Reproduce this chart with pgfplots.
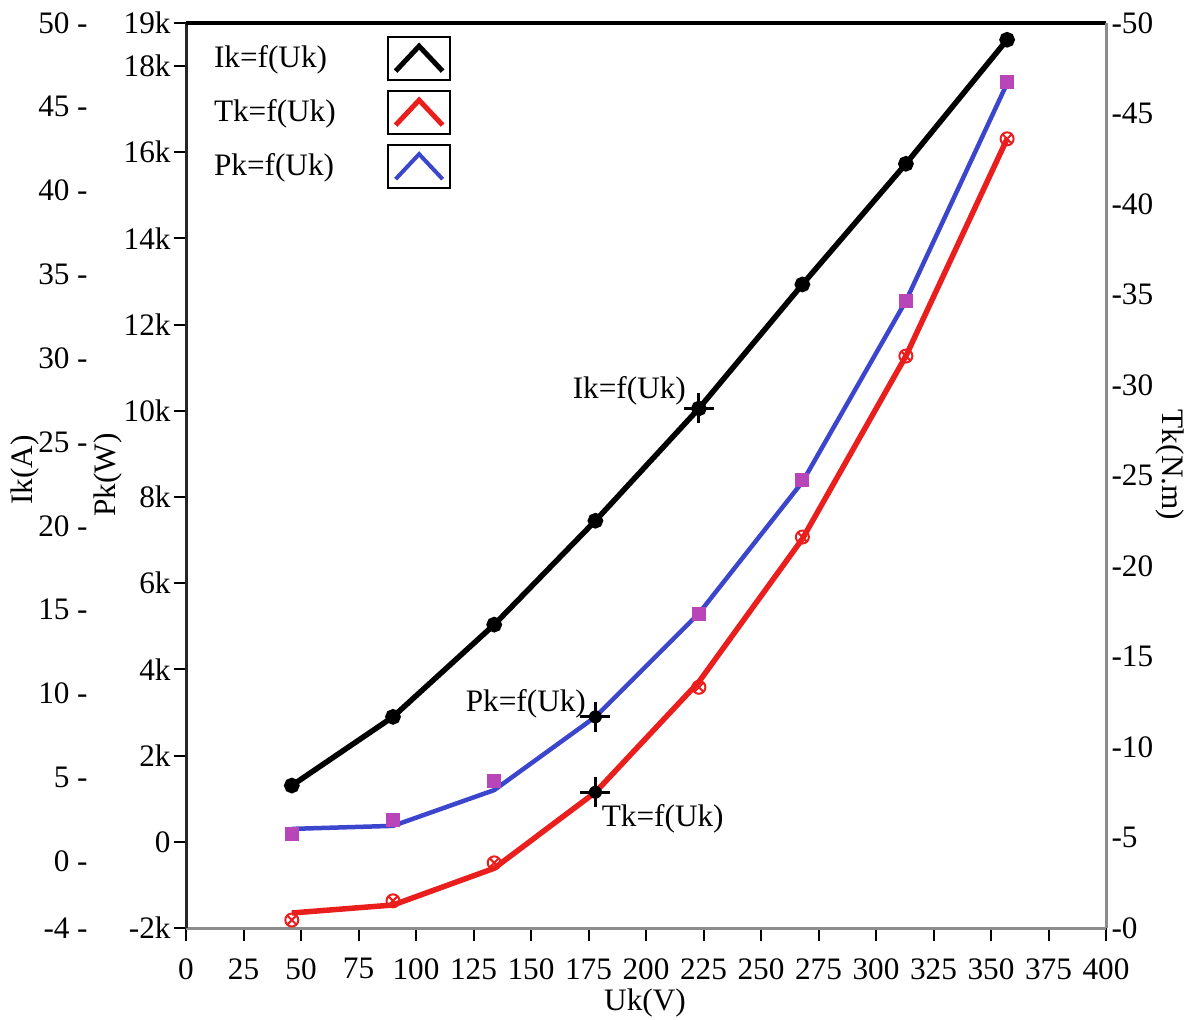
\documentclass[border=0pt]{standalone}
\usepackage{fontspec}
\setmainfont{Liberation Serif}
\usepackage{pgfplots}
\pgfplotsset{compat=1.18}
\definecolor{tkred}{RGB}{235,30,30}
\definecolor{pkblue}{RGB}{60,70,205}
\definecolor{pkmag}{RGB}{185,70,185}
\definecolor{axgray}{RGB}{140,140,140}
\begin{document}
\fontsize{12.5}{15}\selectfont
\begin{tikzpicture}
\path[use as bounding box] (0,0) rectangle (474pt,407.6pt);
\pgfplotsset{
  every axis/.append style={
    at={(74.4pt,36.4pt)}, anchor=south west, scale only axis,
    width=368pt, height=362pt, xmin=0, xmax=400, clip=false,
    /pgf/number format/assume math mode=true,
    tick label style={font=\fontsize{12.5}{14}\selectfont},
  },
}
% ---------- Pk axis (inner left) ----------
\begin{axis}[
  ymin=-2000, ymax=19000,
  axis x line*=bottom, axis y line*=left,
  x axis line style={draw=axgray, line width=1.2pt, -},
  y axis line style={draw=black!85, line width=1.2pt, -},
  xtick={0,25,50,75,100,125,150,175,200,225,250,275,300,325,350,375,400},
  ytick={-2000,0,2000,4000,6000,8000,10000,12000,14000,16000,18000,19000},
  yticklabels={-2k,0,2k,4k,6k,8k,10k,12k,14k,16k,18k,19k},
  scaled y ticks=false,
  tick align=outside, major tick length=5pt,
  tick style={black, line width=0.8pt},
  yticklabel style={inner sep=0pt, xshift=-1pt},
  xticklabel style={inner sep=0pt, yshift=-7pt},
  legend plot pos=right,
  legend cell align=left,
  legend style={at={(0,1)}, anchor=north west, xshift=6pt, yshift=-3pt,
    draw=none, fill=none, row sep=3.5pt, /tikz/column sep=18.5pt,
    font=\fontsize{12.5}{14}\selectfont},
  legend image code/.code={
    \draw[black, line width=0.9pt, fill=white] (0pt,-8.6pt) rectangle (24.8pt,8.6pt);
    \draw (3pt,-5pt) -- (12.4pt,5pt) -- (21.8pt,-5pt);
  },
]
\addlegendimage{black, line width=2pt}
\addlegendentry{Ik=f(Uk)}
\addlegendimage{tkred, line width=2pt}
\addlegendentry{Tk=f(Uk)}
\addlegendimage{pkblue, line width=1.6pt}
\addlegendentry{Pk=f(Uk)}
% Pk line
\addplot[forget plot, pkblue, line width=1.8pt] coordinates {
  (46,300) (90,370) (134,1200) (178,2900) (223,5300) (268,8350) (313,12550) (357,17600)};
% Pk markers
\addplot[forget plot, only marks, mark=square*, mark size=2.6pt, pkmag] coordinates {
  (46,190) (90,510) (134,1400) (223,5280) (268,8400) (313,12560) (357,17630)};
% cursor Pk
\addplot[forget plot, only marks, mark=+, mark size=6pt, black, line width=1.2pt] coordinates {(178,2900)};
\addplot[forget plot, only marks, mark=*, mark size=2.4pt, black] coordinates {(178,2900)};
\node[anchor=base east, inner sep=0pt, xshift=-3.6pt, yshift=2pt] at (axis cs:178,2900) {Pk=f(Uk)};
\end{axis}
% ---------- Ik axis (outer left) ----------
\begin{axis}[
  ymin=-4, ymax=50,
  hide x axis, axis y line*=left,
  y axis line style={draw=none},
  ytick={-4,0,5,10,15,20,25,30,35,40,45,50},
  yticklabels={-4\hspace{3pt}-,0\hspace{3pt}-,5\hspace{3pt}-,10\hspace{3pt}-,15\hspace{3pt}-,20\hspace{3pt}-,25\hspace{3pt}-,30\hspace{3pt}-,35\hspace{3pt}-,40\hspace{3pt}-,45\hspace{3pt}-,50\hspace{3pt}-},
  major tick length=0pt,
  yticklabel style={anchor=east, inner sep=0pt, xshift=-39.2pt},
]
\addplot[black, line width=2.2pt, mark=*, mark size=2pt] coordinates {
  (46,4.5) (90,8.6) (134,14.1) (178,20.3) (223,27.0) (268,34.4) (313,41.6) (357,49.0)};
\addplot[only marks, mark=+, mark size=6pt, black, line width=1.2pt] coordinates {(223,27.0)};
\addplot[only marks, mark=*, mark size=2.4pt, black] coordinates {(223,27.0)};
\node[anchor=base east, inner sep=0pt, xshift=-5pt, yshift=4pt] at (axis cs:223,27.0) {Ik=f(Uk)};
\end{axis}
% ---------- Tk axis (right) ----------
\begin{axis}[
  ymin=0, ymax=50,
  axis y line*=right, axis x line*=top,
  x axis line style={draw=black, line width=1.5pt, -},
  y axis line style={draw=axgray, line width=1.2pt, -},
  xtick=\empty,
  ytick={0,5,10,15,20,25,30,35,40,45,50},
  yticklabels={-0,-5,-10,-15,-20,-25,-30,-35,-40,-45,-50},
  major tick length=0pt,
  yticklabel style={anchor=west, inner sep=0pt, xshift=2pt},
]
\addplot[tkred, line width=2.2pt] coordinates {
  (46,0.83) (90,1.27) (134,3.3) (178,7.5) (223,13.6) (268,21.5) (313,31.6) (357,43.6)};
\addplot[only marks, mark=otimes, mark size=2.6pt, tkred, line width=0.8pt] coordinates {
  (46,0.44) (90,1.5) (134,3.6) (223,13.3) (268,21.6) (313,31.6) (357,43.6)};
\addplot[only marks, mark=+, mark size=6pt, black, line width=1.2pt] coordinates {(178,7.5)};
\addplot[only marks, mark=*, mark size=2.4pt, black] coordinates {(178,7.5)};
\node[anchor=base west, inner sep=0pt, xshift=2.4pt, yshift=-13.6pt] at (axis cs:178,7.5) {Tk=f(Uk)};
\end{axis}
% axis titles
\node[rotate=90] at (10pt,219.6pt) {Ik(A)};
\node[rotate=90] at (43.2pt,217.6pt) {Pk(W)};
\node[rotate=-90] at (468pt,221.6pt) {Tk(N.m)};
\node at (258pt,6.5pt) {Uk(V)};
\end{tikzpicture}
\end{document}
